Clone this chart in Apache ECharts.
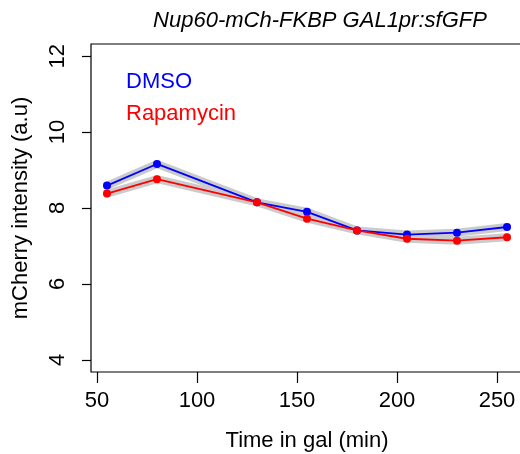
<!DOCTYPE html>
<html>
<head>
<meta charset="utf-8">
<script src="https://cdn.jsdelivr.net/npm/echarts@6/dist/echarts.min.js"></script>
<style>html,body{margin:0;padding:0;background:#fff;}#c{width:520px;height:454px;}</style>
</head>
<body>
<div id="c"></div>
<script>
var times = [55, 80, 130, 155, 180, 205, 230, 255];
var dmso = [8.59, 9.16, 8.15, 7.90, 7.41, 7.30, 7.35, 7.50];
var rapamycin = [8.38, 8.76, 8.15, 7.72, 7.41, 7.19, 7.14, 7.23];
var xTicks = [50, 100, 150, 200, 250];
var yTicks = [4, 6, 8, 10, 12];
var seriesNames = ['DMSO', 'Rapamycin'];
var titleText = 'Nup60-mCh-FKBP GAL1pr:sfGFP';
var xName = 'Time in gal (min)';
var yName = 'mCherry intensity (a.u)';

function pairs(ys) { return times.map(function (t, i) { return [t, ys[i]]; }); }
var font = 'Liberation Sans, Arial, sans-serif';

var chart = echarts.init(document.getElementById('c'), null, {renderer: 'canvas'});
chart.setOption({
  animation: false,
  backgroundColor: '#fff',
  title: {
    text: titleText, left: 315, top: 5, textAlign: 'center',
    textStyle: {fontFamily: font, fontStyle: 'italic', fontWeight: 'normal', fontSize: 22, color: '#000'}
  },
  legend: {
    orient: 'vertical', left: 121, top: 71, itemGap: 10, icon: 'none', itemWidth: 0, itemHeight: 0,
    selectedMode: false, padding: 0,
    data: [
      {name: seriesNames[0], textStyle: {color: '#0000ff'}},
      {name: seriesNames[1], textStyle: {color: '#ff0000'}}
    ],
    textStyle: {fontFamily: font, fontSize: 22}
  },
  grid: {left: 91, right: -3, top: 44, bottom: 82, show: true, borderColor: '#000', borderWidth: 1.2,
         containLabel: false, outerBoundsMode: 'none'},
  xAxis: {
    type: 'value', min: 47, max: 263,
    name: xName, nameLocation: 'middle', nameGap: 58,
    nameTextStyle: {fontFamily: font, fontSize: 22, color: '#000'},
    axisLine: {show: false},
    splitLine: {show: false},
    axisTick: {show: true, inside: false, length: 11, customValues: xTicks, lineStyle: {color: '#000', width: 1.2}},
    axisLabel: {customValues: xTicks, fontFamily: font, fontSize: 22, color: '#000', margin: 18}
  },
  yAxis: {
    type: 'value', min: 3.68, max: 12.32,
    name: yName, nameLocation: 'middle', nameGap: 59, nameRotate: 90,
    nameTextStyle: {fontFamily: font, fontSize: 22, color: '#000'},
    axisLine: {show: false},
    splitLine: {show: false},
    axisTick: {show: true, inside: false, length: 9, customValues: yTicks, lineStyle: {color: '#000', width: 1.2}},
    axisLabel: {customValues: yTicks, rotate: 90, fontFamily: font, fontSize: 22, color: '#000', margin: 22}
  },
  series: [
    {type: 'line', data: pairs(dmso), symbol: 'none', silent: true, z: 1,
     lineStyle: {color: '#cbcbcb', width: 8, cap: 'round', join: 'round'}},
    {type: 'line', data: pairs(rapamycin), symbol: 'none', silent: true, z: 1,
     lineStyle: {color: '#cbcbcb', width: 8, cap: 'round', join: 'round'}},
    {name: seriesNames[0], type: 'line', data: pairs(dmso), symbol: 'circle', symbolSize: 8, z: 3,
     itemStyle: {color: '#0000ff'}, lineStyle: {color: '#0000ff', width: 1.8}},
    {name: seriesNames[1], type: 'line', data: pairs(rapamycin), symbol: 'circle', symbolSize: 8, z: 4,
     itemStyle: {color: '#ff0000'}, lineStyle: {color: '#ff0000', width: 1.8}}
  ]
});
</script>
</body>
</html>
